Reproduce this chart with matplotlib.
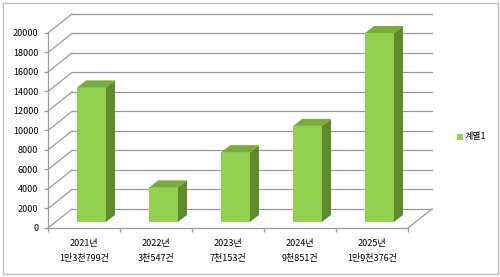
import numpy as np
import matplotlib.pyplot as plt
from matplotlib.patches import Polygon, Rectangle

plt.rcParams['font.family'] = ['Noto Sans CJK KR', 'DejaVu Sans']

years = ['2021년', '2022년', '2023년', '2024년', '2025년']
counts_text = ['1만3천799건', '3천547건', '7천153건', '9천851건', '1만9천376건']
values = [13799, 3547, 7153, 9851, 19376]
series_name = '계열1'
y_ticks = list(range(0, 20001, 2000))

front = '#92d050'
side = '#5e8a2c'
top = '#77ab3c'
grid = '#9a9a9a'

# 3d look: back wall offset and bar depth (category / value units)
wall_dx, wall_dy = 0.333, 1950
bar_w = 0.40
shift = 0.316
bar_dx, bar_dy = 0.125, 720

fig = plt.figure(figsize=(5.0, 2.77), dpi=100)
ax = fig.add_axes([0.096, 0.177, 0.72, 0.704])
ax.set_xlim(0, 5)
ax.set_ylim(0, 20000)

# back wall gridlines + side wall diagonals
for v in y_ticks:
    ax.plot([0, wall_dx], [v, v + wall_dy], color=grid, lw=0.9, clip_on=False, zorder=1)
    ax.plot([wall_dx, 5 + wall_dx], [v + wall_dy, v + wall_dy], color=grid, lw=0.9, clip_on=False, zorder=1)
ax.plot([5, 5 + wall_dx], [0, wall_dy], color=grid, lw=0.9, clip_on=False, zorder=1)

for i, v in enumerate(values):
    x0 = i + 0.5 - bar_w / 2 + shift * wall_dx
    base = shift * wall_dy
    ax.bar(x0, v, width=bar_w, bottom=base, align='edge', color=front, zorder=3, clip_on=False)
    x1 = x0 + bar_w
    ax.add_patch(Polygon([(x1, base), (x1 + bar_dx, base + bar_dy), (x1 + bar_dx, base + v + bar_dy), (x1, base + v)],
                         closed=True, facecolor=side, edgecolor='none', zorder=3, clip_on=False))
    ax.add_patch(Polygon([(x0, base + v), (x0 + bar_dx, base + v + bar_dy), (x1 + bar_dx, base + v + bar_dy), (x1, base + v)],
                         closed=True, facecolor=top, edgecolor='none', zorder=3, clip_on=False))

for s in ['top', 'right']:
    ax.spines[s].set_visible(False)
for s in ['left', 'bottom']:
    ax.spines[s].set_color(grid)
    ax.spines[s].set_linewidth(0.9)
ax.patch.set_alpha(0)

ax.set_yticks(y_ticks)
ax.set_yticklabels([str(t) for t in y_ticks], fontsize=6.5)
ax.set_xticks(np.arange(0, 6))
ax.set_xticklabels([])
ax.set_xticks(np.arange(5) + 0.5, minor=True)
ax.set_xticklabels([y + '\n' + c for y, c in zip(years, counts_text)], minor=True, fontsize=6.5, linespacing=1.9)
ax.tick_params(axis='x', which='minor', length=0, pad=8)
ax.tick_params(axis='both', which='major', color=grid, length=3, width=0.9)
ax.tick_params(axis='y', pad=4)

# legend
fig.patches.append(Rectangle((0.914, 0.496), 0.011, 0.02, transform=fig.transFigure, facecolor=front, edgecolor='none'))
fig.text(0.93, 0.506, series_name, fontsize=6.5, va='center', ha='left')

# chart frame
fig.patches.append(Rectangle((0.005, 0.01), 0.99, 0.98, transform=fig.transFigure,
                             facecolor='none', edgecolor='#bdbdbd', lw=1.0))

fig.savefig('out.png', dpi=100)
